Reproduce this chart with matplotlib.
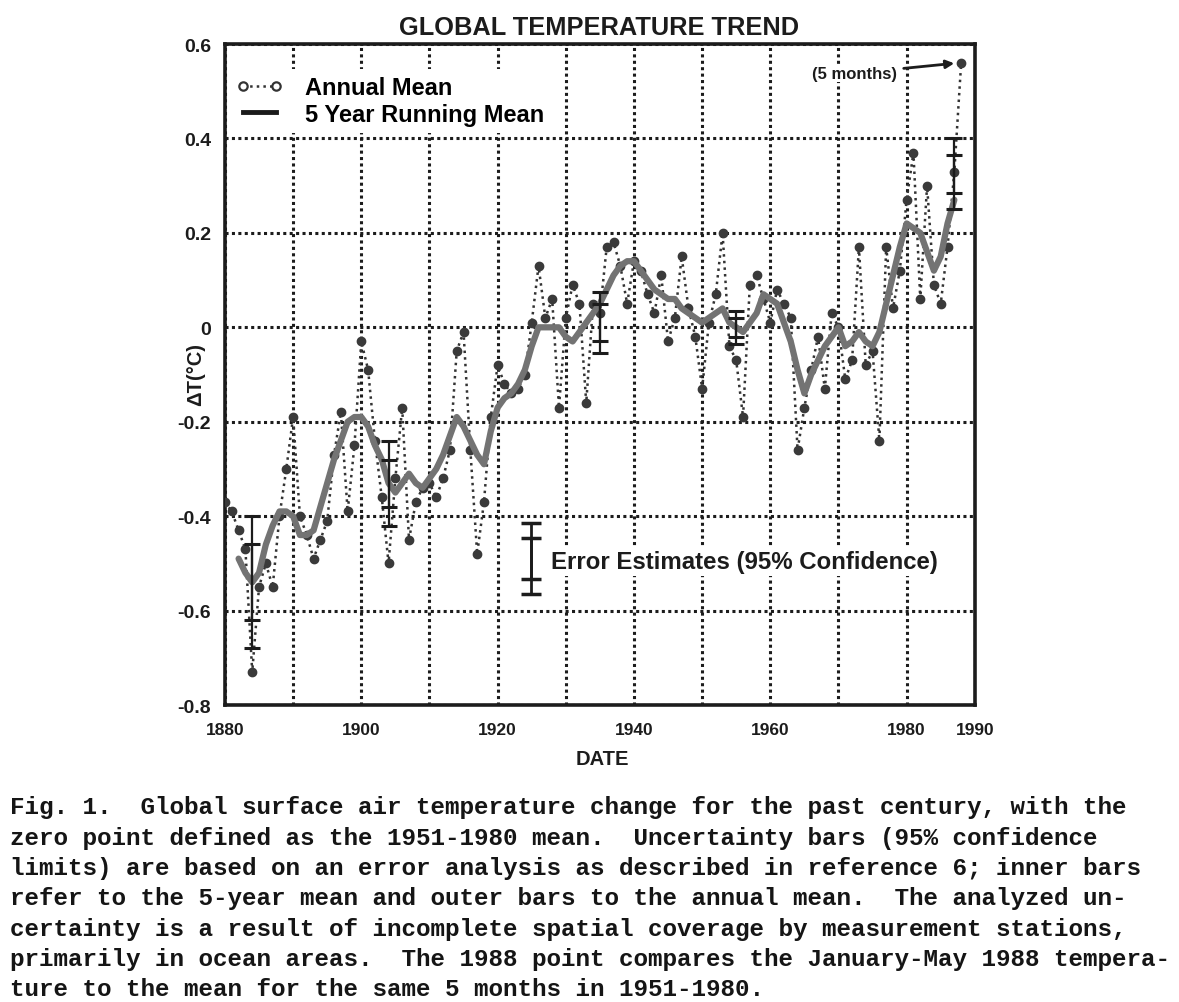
import matplotlib
matplotlib.use("Agg")
import matplotlib.pyplot as plt
from matplotlib.lines import Line2D

# annual mean, 1880-1988 (1988 = January-May only)
years = list(range(1880, 1989))
annual = [-0.37, -0.39, -0.43, -0.47, -0.73, -0.55, -0.50, -0.55, -0.40, -0.30,
          -0.19, -0.40, -0.44, -0.49, -0.45, -0.41, -0.27, -0.18, -0.39, -0.25,
          -0.03, -0.09, -0.24, -0.36, -0.50, -0.32, -0.17, -0.45, -0.37, -0.34,
          -0.33, -0.36, -0.32, -0.26, -0.05, -0.01, -0.26, -0.48, -0.37, -0.19,
          -0.08, -0.12, -0.14, -0.13, -0.10, 0.01, 0.13, 0.02, 0.06, -0.17,
          0.02, 0.09, 0.05, -0.16, 0.05, 0.03, 0.17, 0.18, 0.13, 0.05,
          0.14, 0.12, 0.07, 0.03, 0.11, -0.03, 0.02, 0.15, 0.04, -0.02,
          -0.13, 0.01, 0.07, 0.20, -0.04, -0.07, -0.19, 0.09, 0.11, 0.06,
          0.01, 0.08, 0.05, 0.02, -0.26, -0.17, -0.09, -0.02, -0.13, 0.03,
          0.00, -0.11, -0.07, 0.17, -0.08, -0.05, -0.24, 0.17, 0.04, 0.12,
          0.27, 0.37, 0.06, 0.30, 0.09, 0.05, 0.17, 0.33, 0.56]

# 5 year running mean
years5 = list(range(1882, 1988))
run5 = [-0.49, -0.52, -0.54, -0.52, -0.46, -0.42, -0.39, -0.39,
        -0.40, -0.44, -0.44, -0.43, -0.38, -0.33, -0.28, -0.24, -0.20, -0.19,
        -0.19, -0.21, -0.25, -0.28, -0.33, -0.35, -0.33, -0.31, -0.33, -0.34,
        -0.32, -0.30, -0.27, -0.23, -0.19, -0.21, -0.24, -0.27, -0.29, -0.22,
        -0.17, -0.15, -0.14, -0.12, -0.09, -0.04, 0.00, 0.00, 0.00, 0.00,
        -0.02, -0.03, -0.01, 0.01, 0.03, 0.05, 0.08, 0.11, 0.13, 0.14,
        0.14, 0.12, 0.10, 0.08, 0.07, 0.06, 0.06, 0.04, 0.03, 0.02,
        0.01, 0.02, 0.03, 0.04, 0.01, 0.00, -0.01, 0.01, 0.03, 0.07,
        0.06, 0.05, 0.01, -0.03, -0.09, -0.14, -0.10, -0.07, -0.04, -0.02,
        0.00, -0.04, -0.03, -0.01, -0.03, -0.04, -0.01, 0.05, 0.11, 0.17,
        0.22, 0.21, 0.20, 0.16, 0.12, 0.15, 0.22, 0.27]

# uncertainty bars (inner = 5-year mean, outer = annual mean)
err_years = [1884, 1904, 1935, 1955, 1987]
err_center = [-0.54, -0.33, 0.01, 0.00, 0.325]
err_inner = [0.08, 0.05, 0.04, 0.02, 0.04]
err_outer = [0.14, 0.09, 0.065, 0.035, 0.075]

# sample bar for the "Error Estimates" key
key_year = 1924.9
key_center = -0.49
key_inner = 0.043
key_outer = 0.075

xticks = list(range(1880, 1991, 10))
xlabels = ['1880', '', '1900', '', '1920', '', '1940', '', '1960', '', '1980', '1990']
yticks = [0.6, 0.4, 0.2, 0.0, -0.2, -0.4, -0.6, -0.8]
ylabels = ['0.6', '0.4', '0.2', '0', '-0.2', '-0.4', '-0.6', '-0.8']

caption = [
    "Fig. 1.  Global surface air temperature change for the past century, with the",
    "zero point defined as the 1951-1980 mean.  Uncertainty bars (95% confidence",
    "limits) are based on an error analysis as described in reference 6; inner bars",
    "refer to the 5-year mean and outer bars to the annual mean.  The analyzed un-",
    "certainty is a result of incomplete spatial coverage by measurement stations,",
    "primarily in ocean areas.  The 1988 point compares the January-May 1988 tempera-",
    "ture to the mean for the same 5 months in 1951-1980.",
]

plt.rcParams['font.family'] = ['Liberation Sans', 'DejaVu Sans']

fig = plt.figure(figsize=(11.79, 10.03), dpi=100)
fig.patch.set_facecolor('white')
ax = fig.add_axes([0.1908, 0.2961, 0.636, 0.659])

ink = '#1c1c1c'
ax.plot(years, annual, linestyle=':', color='#333333', lw=1.8, marker='o', ms=6,
        mfc='#3a3a3a', mec='#3a3a3a', zorder=3)
ax.plot(years5, run5, color='#737373', lw=4.5, solid_capstyle='round',
        solid_joinstyle='round', zorder=4)

ax.errorbar(err_years, err_center, yerr=err_outer, fmt='none', ecolor=ink,
            elinewidth=1.6, capsize=6, capthick=2.2, zorder=5)
ax.errorbar(err_years, err_center, yerr=err_inner, fmt='none', ecolor=ink,
            elinewidth=1.6, capsize=6, capthick=2.2, zorder=5)

ax.errorbar([key_year], [key_center], yerr=[key_outer], fmt='none', ecolor=ink,
            elinewidth=2, capsize=7, capthick=2.5, zorder=5)
ax.errorbar([key_year], [key_center], yerr=[key_inner], fmt='none', ecolor=ink,
            elinewidth=2, capsize=7, capthick=2.5, zorder=5)
ax.text(1927.9, -0.496, 'Error Estimates (95% Confidence)', fontsize=17.3,
        fontweight='bold', color=ink, va='center', ha='left', zorder=6,
        bbox=dict(facecolor='white', edgecolor='none', pad=2))

ax.annotate('(5 months)', xy=(1987.6, 0.56), xytext=(1966.1, 0.538),
            fontsize=12, fontweight='bold', color=ink, va='center', ha='left',
            bbox=dict(facecolor='white', edgecolor='none', pad=1),
            arrowprops=dict(arrowstyle='-|>', color=ink, lw=2, shrinkA=4, shrinkB=3),
            zorder=6)

handles = [Line2D([], [], linestyle=':', color='#333333', lw=1.8, marker='o', ms=6,
                  mfc='white', mec='#333333', mew=1.6),
           Line2D([], [], color='#1a1a1a', lw=3.5)]
leg = ax.legend(handles, ['Annual Mean', '5 Year Running Mean'], loc='upper left',
                bbox_to_anchor=(-0.01, 0.98), frameon=True, fancybox=False,
                edgecolor='none', facecolor='white', framealpha=1,
                prop={'weight': 'bold', 'size': 17}, handlelength=2.0,
                handletextpad=0.9, labelspacing=0.15, borderpad=0.3, numpoints=2)
leg.set_zorder(6)

ax.set_xlim(1880, 1990)
ax.set_ylim(-0.8, 0.6)
ax.set_xticks(xticks)
ax.set_xticklabels(xlabels, fontsize=12.5, fontweight='bold')
ax.set_yticks(yticks)
ax.set_yticklabels(ylabels, fontsize=14, fontweight='bold')
ax.tick_params(length=0, pad=10, colors=ink)
ax.tick_params(axis='x', pad=12)
ax.grid(True, color=ink, linestyle=(0, (1, 1.1)), lw=2.2, zorder=1)
ax.set_axisbelow(True)
for s in ax.spines.values():
    s.set_linewidth(2.6)
    s.set_color(ink)

fig.text(0.508, 1 - 28 / 1003, 'GLOBAL TEMPERATURE TREND', ha='center', va='center',
         fontsize=18.3, fontweight='bold', color=ink)
fig.text(196 / 1179, 1 - 375 / 1003, 'ΔT(°C)', rotation=90, ha='center', va='center',
         fontsize=14.5, fontweight='bold', color=ink)
fig.text(602 / 1179, 1 - 760 / 1003, 'DATE', ha='center', va='center',
         fontsize=14.5, fontweight='bold', color=ink)

for i, line in enumerate(caption):
    fig.text(10 / 1179, 1 - (808 + 30.3 * i) / 1003, line, ha='left', va='center',
             fontsize=17.5, fontweight='bold', family='Liberation Mono', color='#151515')

fig.savefig('out.png', dpi=100, facecolor='white')
